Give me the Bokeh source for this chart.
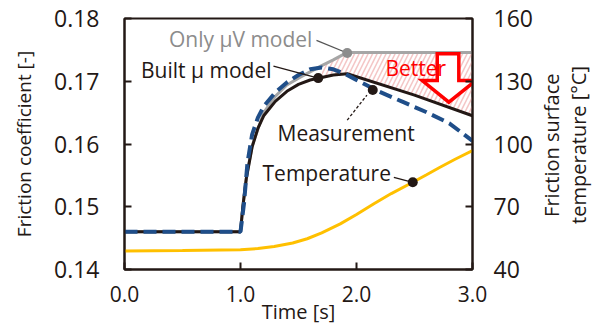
import numpy as np
from bokeh.plotting import figure
from bokeh.layouts import row
from bokeh.models import Range1d, LinearAxis, FixedTicker, NumeralTickFormatter, Div
from bokeh.core.properties import value
from bokeh.embed import file_html
from bokeh.resources import INLINE

FONT = "Open Sans"
INK = "#231815"

# ---- data ----
x_ticks = [0, 1, 2, 3]
mu_ticks = [0.14, 0.15, 0.16, 0.17, 0.18]
temp_ticks = [40, 70, 100, 130, 160]
right_title = ["Friction surface", "temperature [°C]"]

t_model = [0.0, 1.0, 1.02, 1.05, 1.1, 1.15, 1.2, 1.3, 1.4, 1.5, 1.6, 1.7, 1.8, 1.92, 2.5, 3.0]
mu_model = [0.146, 0.146, 0.150, 0.1545, 0.1595, 0.1625, 0.1645, 0.1668, 0.1684, 0.1695, 0.1702,
            0.1706, 0.1710, 0.1712, 0.1678, 0.1645]

t_meas = [0.0, 1.0, 1.03, 1.06, 1.1, 1.15, 1.2, 1.3, 1.4, 1.5, 1.6, 1.7, 1.8, 1.9, 2.0,
          2.2, 2.4, 2.6, 2.8, 2.9, 3.0]
mu_meas = [0.146, 0.146, 0.1505, 0.157, 0.1615, 0.1642, 0.166, 0.1682, 0.1698, 0.1710, 0.1719,
           0.1722, 0.1719, 0.1712, 0.1702, 0.1683, 0.1667, 0.1651, 0.1633, 0.1619, 0.1605]

t_only = [0.0, 1.0, 1.02, 1.05, 1.1, 1.2, 1.3, 1.4, 1.5, 1.6, 1.7, 1.8, 1.92, 3.0]
mu_only = [0.146, 0.146, 0.150, 0.1545, 0.1597, 0.165, 0.1676, 0.1694, 0.1705, 0.1715,
           0.1725, 0.1734, 0.1746, 0.1746]

t_temp = [0.0, 0.5, 1.0, 1.15, 1.29, 1.45, 1.575, 1.7, 1.86, 2.0, 2.15, 2.3, 2.485,
          2.6, 2.72, 2.85, 3.0]
temp = [48.9, 49.1, 49.4, 50.0, 51.0, 52.7, 54.7, 57.5, 61.8, 66.3, 71.4, 76.3, 81.7,
        85.2, 88.9, 92.7, 96.9]

# annotation anchor points (data coords)
dot_only = (1.92, 0.1745)
dot_model = (1.67, 0.1705)
dot_meas = (2.14, 0.1686)
dot_temp = (2.485, 81.7)

# ---- figure ----
p = figure(width=537, height=327, x_range=Range1d(0, 3), y_range=Range1d(0.14, 0.18),
           output_backend="svg", toolbar_location=None,
           min_border_left=124, min_border_right=65, min_border_top=18, min_border_bottom=58)
p.extra_y_ranges = {"temp": Range1d(40, 160)}
p.xgrid.visible = False
p.ygrid.visible = False
p.outline_line_color = INK
p.outline_line_width = 2
p.outline_line_alpha = 1
p.background_fill_color = "white"
p.border_fill_color = "white"


def style_axis(ax, size):
    ax.axis_line_color = INK
    ax.axis_line_width = 2
    ax.major_tick_line_color = INK
    ax.major_tick_line_width = 2
    ax.major_tick_in = 7
    ax.major_tick_out = 0
    ax.minor_tick_line_color = None
    ax.major_label_text_font = FONT
    ax.major_label_text_font_size = size
    ax.major_label_text_color = INK
    ax.axis_label_text_font = FONT
    ax.axis_label_text_font_style = "normal"
    ax.axis_label_text_color = INK


xa = p.xaxis[0]
style_axis(xa, "21px")
xa.ticker = FixedTicker(ticks=x_ticks)
xa.formatter = NumeralTickFormatter(format="0.0")
xa.major_label_standoff = 16
xa.axis_label = "Time [s]"
xa.axis_label_text_font_size = "20px"
xa.axis_label_standoff = -7

ya = p.yaxis[0]
style_axis(ya, "23px")
ya.ticker = FixedTicker(ticks=mu_ticks)
ya.formatter = NumeralTickFormatter(format="0.00")
ya.major_label_standoff = 25
ya.axis_label = "Friction coefficient [-]"
ya.axis_label_text_font_size = "19px"
ya.axis_label_standoff = 14

ra = LinearAxis(y_range_name="temp")
style_axis(ra, "23px")
ra.ticker = FixedTicker(ticks=temp_ticks)
ra.major_label_standoff = 21
p.add_layout(ra, "right")

# ---- hatched "better" region between only-μV model and built μ model ----
t_h = np.array([t for t in t_model if t >= 1.7])
black_h = np.interp(t_h, t_model, mu_model)
gray_h = np.interp(t_h, t_only, mu_only)
p.varea(x=t_h, y1=black_h, y2=gray_h, fill_alpha=0, hatch_pattern="/",
        hatch_color="#f0b4b4", hatch_alpha=0.75, hatch_scale=9, hatch_weight=1.6)

# ---- curves ----
p.line(t_temp, temp, y_range_name="temp", line_color="#FFC000", line_width=3)
p.line(t_only, mu_only, line_color="#A6A6A6", line_width=3)
p.line(t_model, mu_model, line_color=INK, line_width=3)
p.line(t_meas, mu_meas, line_color="#1F4E89", line_width=4, line_dash="13 6")

# ---- arrow ("Better") ----
ax_l, ax_r, hx_l, hx_r, tip_x = 2.696, 2.882, 2.566, 3.026, 2.796
ay_top, ay_sh, ay_tip = 0.1744, 0.1701, 0.16666
p.patch([ax_l, ax_l, hx_l, tip_x, hx_r, ax_r, ax_r],
        [ay_top, ay_sh, ay_sh, ay_tip, ay_sh, ay_sh, ay_top],
        fill_color="white", line_color="#FF0000", line_width=3.5, line_join="miter")

# ---- leader lines ----
p.line([1.655, dot_only[0]], [0.1765, dot_only[1]], line_color="#555555", line_width=1.3)
p.line([1.284, dot_model[0]], [0.1724, dot_model[1]], line_color=INK, line_width=1.3)
p.line([1.92, 2.09], [0.1638, 0.1678], line_color=INK, line_width=1.3, line_dash="3 2")
p.line([2.322, dot_temp[0]], [84.1, dot_temp[1]], y_range_name="temp", line_color=INK, line_width=1.3)

# ---- dots ----
p.scatter([dot_only[0]], [dot_only[1]], size=10, fill_color="#8C8C8C", line_color=None)
p.scatter([dot_model[0], dot_meas[0]], [dot_model[1], dot_meas[1]], size=10,
          fill_color=INK, line_color=None)
p.scatter([dot_temp[0]], [dot_temp[1]], y_range_name="temp", size=10, fill_color=INK, line_color=None)

# ---- texts ----
p.text([1.62], [0.1768], text=["Only μV model"], text_font=value(FONT), text_font_size="21px",
       text_align="right", text_baseline="middle", text_color="#8C8C8C")
p.text([1.267], [0.17187], text=["Built μ model"], text_font=value(FONT), text_font_size="21px",
       text_align="right", text_baseline="middle", text_color=INK)
p.text([1.319], [0.16175], text=["Measurement"], text_font=value(FONT), text_font_size="21px",
       text_align="left", text_baseline="middle", text_color=INK)
p.text([1.19], [85.9], text=["Temperature"], y_range_name="temp", text_font=value(FONT),
       text_font_size="21px", text_align="left", text_baseline="middle", text_color=INK)
p.text([2.25], [0.1721], text=["Better"], text_font=value(FONT), text_font_size="21px",
       text_align="left", text_baseline="middle", text_color="#FF0000")

# ---- right-hand axis title (two lines, reading bottom-to-top) ----
title_html = (
    '<div style="width:56px;height:290px;display:flex;align-items:center;justify-content:center;">'
    '<div style="writing-mode:vertical-rl;transform:rotate(180deg);font-family:\'Open Sans\';'
    'font-size:20px;line-height:27px;color:#231815;text-align:center;white-space:nowrap;">'
    + "<br>".join(right_title) + '</div></div>'
)
div = Div(text=title_html, width=60, height=327, margin=(0, 0, 0, 0))

layout = row(p, div, spacing=0)
open("out.html", "w").write(file_html(layout, INLINE))
